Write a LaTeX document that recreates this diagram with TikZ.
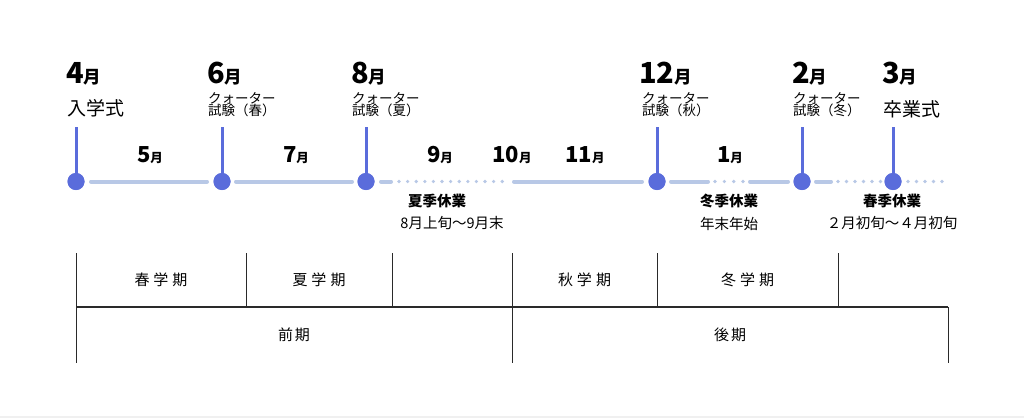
\documentclass[tikz,border=0pt]{standalone}
\usepackage{fontspec}
\setmainfont{Noto Sans CJK JP}
\definecolor{tlblue}{HTML}{5A6CDB}
\definecolor{tlline}{HTML}{B8C8E6}
\definecolor{tblline}{HTML}{2A2A2A}
\newcommand{\fsz}[1]{\fontsize{#1}{#1}\selectfont}
\newcommand{\bigmon}[1]{{\bfseries\fsz{29}#1\fsz{17.5}月}}
\newcommand{\midmon}[1]{{\bfseries\fsz{22}#1\fsz{12.5}月}}
\begin{document}
\begin{tikzpicture}[x=1pt,y=-1pt,
  seg/.style={line width=4pt, tlline, line cap=round},
  dotc/.style={circle, fill=tlline, inner sep=0pt, minimum size=3.6pt},
  stemline/.style={line width=3pt, tlblue},
  milestone/.style={circle, fill=tlblue, inner sep=0pt, minimum size=17pt},
  lbl/.style={inner sep=0pt, anchor=base west},
  sub/.style={inner sep=0pt, anchor=west, align=left, font=\fsz{13.5}},
  midlbl/.style={inner sep=0pt},
  hol/.style={inner sep=0pt, font=\bfseries\fsz{14.5}},
  holsub/.style={inner sep=0pt, font=\fsz{14.5}},
  tbl/.style={line width=1pt, tblline},
  tbltxt/.style={inner sep=0pt, font=\fsz{15}}]
\useasboundingbox (0,0) rectangle (1024,418);
\fill[white] (0,0) rectangle (1024,418);
\fill[black!6] (0,416) rectangle (1024,418);

% timeline segments
\foreach \a/\b in {89/209, 234/354, 379/393, 512/644, 669/710, 748/790, 814/833}
  \draw[seg] (\a+2,181.5) -- (\b-2,181.5);
\foreach \x in {399,407.6,416.2,424.8,433.4,442,450.6,459.2,467.8,476.4,485,493.6,502.2,
                715,724.3,733.7,743,
                838,846.5,855,863.5,872,880.5,
                908,916.5,925,933.5,942}
  \node[dotc] at (\x,181.5) {};

% milestones
\foreach \n/\x in {m4/76, m6/222, m8/366, m12/657, m2/802, m3/893}{
  \coordinate (\n top) at (\x,127);
  \node[milestone] (\n) at (\x,181.5) {};
  \draw[stemline] (\n top) -- (\n.center);
  \node[milestone] at (\n) {};
}

% big month labels
\node[lbl] (l4) at (66,83) {\bigmon{4}};
\node[lbl] (l6) at (207,83) {\bigmon{6}};
\node[lbl] (l8) at (351,83) {\bigmon{8}};
\node[lbl] (l12) at (639,83) {\bigmon{12}};
\node[lbl] (l2) at (792,83) {\bigmon{2}};
\node[lbl] (l3) at (882,83) {\bigmon{3}};

% sub labels
\node[inner sep=0pt, anchor=west, font=\fsz{19}] (e4) at (67,108) {入学式};
\node[sub] (e6) at (208,104.5) {クォーター\\[-1.5pt]試験（春）};
\node[sub] (e8) at (352,104.5) {クォーター\\[-1.5pt]試験（夏）};
\node[sub] (e12) at (642,104.5) {クォーター\\[-1.5pt]試験（秋）};
\node[sub] (e2) at (793,104.5) {クォーター\\[-1.5pt]試験（冬）};
\node[inner sep=0pt, anchor=west, font=\fsz{19}] (e3) at (883,109) {卒業式};

% intermediate months
\node[midlbl] (n5) at (150,155) {\midmon{5}};
\node[midlbl] (n7) at (296,155) {\midmon{7}};
\node[midlbl] (n9) at (440,155) {\midmon{9}};
\node[midlbl] (n10) at (512,155) {\midmon{10}};
\node[midlbl] (n11) at (585,155) {\midmon{11}};
\node[midlbl] (n1) at (730,155) {\midmon{1}};

% holidays
\node[hol] (h1) at (437,200.5) {夏季休業};
\node[holsub] (h1s) at (452,223.5) {8月上旬～9月末};
\node[hol] (h2) at (729,200.5) {冬季休業};
\node[holsub] (h2s) at (729,223.5) {年末年始};
\node[hol] (h3) at (892,200.5) {春季休業};
\node[holsub] (h3s) at (892,223.5) {２月初旬～４月初旬};

% table
\draw[tbl] (76,253) -- (76,362.5);
\draw[tbl] (512,253) -- (512,362.5);
\draw[tbl] (948,307) -- (948,362.5);
\foreach \x in {246,392,657,838}
  \draw[tbl] (\x,253) -- (\x,307);
\draw[tbl, line width=1.4pt] (76,307) -- (948,307);

\node[tbltxt] (t1) at (161,280) {春\kern4pt 学\kern4pt 期};
\node[tbltxt] (t2) at (319,280) {夏\kern4pt 学\kern4pt 期};
\node[tbltxt] (t3) at (584.5,280) {秋\kern4pt 学\kern4pt 期};
\node[tbltxt] (t4) at (747.5,280) {冬\kern4pt 学\kern4pt 期};
\node[tbltxt] (t5) at (294,335) {前\kern2pt 期};
\node[tbltxt] (t6) at (730,335) {後\kern2pt 期};
\end{tikzpicture}
\end{document}
